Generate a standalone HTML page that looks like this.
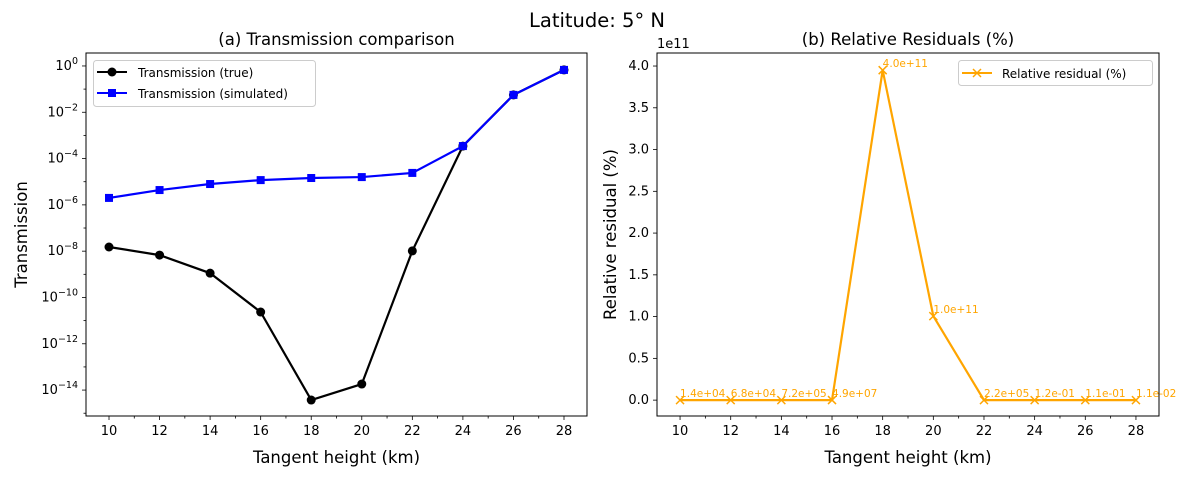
<!DOCTYPE html>
<html><head><meta charset="utf-8"><style>
body{margin:0;background:#fff;}
svg{font-family:"DejaVu Sans","Liberation Sans",sans-serif;}
</style></head><body>
<svg id="chart" width="1189" height="479" viewBox="0 0 1189 479" xmlns="http://www.w3.org/2000/svg">
<rect width="1189" height="479" fill="#fff"/>
<text x="597" y="27" font-size="19.5" text-anchor="middle">Latitude: 5° N</text>
<g id="left"></g><g id="right"></g>
</svg>
<script>
const heights=[10,12,14,16,18,20,22,24,26,28];
const trueLog=[-7.82,-8.17,-8.95,-10.63,-14.43,-13.74,-7.99,-3.46,-1.25,-0.17];
const simLog=[-5.70,-5.36,-5.10,-4.93,-4.84,-4.80,-4.62,-3.46,-1.25,-0.17];
const residual=[1.4e4,6.8e4,7.2e5,4.9e7,3.95e11,1.006e11,2.2e5,1.2e-1,1.1e-1,1.1e-2];
const residLabels=["1.4e+04","6.8e+04","7.2e+05","4.9e+07","4.0e+11","1.0e+11","2.2e+05","1.2e-01","1.1e-01","1.1e-02"];
const xTicks=[10,12,14,16,18,20,22,24,26,28];
const leftYTicks=[0,-2,-4,-6,-8,-10,-12,-14];
const rightYTicks=[0,0.5,1,1.5,2,2.5,3,3.5,4];
const NS="http://www.w3.org/2000/svg";
function el(p,t,a,txt){const e=document.createElementNS(NS,t);for(const k in a)e.setAttribute(k,a[k]);if(txt!==undefined)e.textContent=txt;p.appendChild(e);return e;}
function axes(g,L,R,T,B,xmin,xmax,ymin,ymax){
  const sx=v=>L+(v-xmin)/(xmax-xmin)*(R-L);
  const sy=v=>B-(v-ymin)/(ymax-ymin)*(B-T);
  return [sx,sy];
}
function drawX(g,sx,B,label,cx){
  for(let v=10;v<=28;v++){const x=sx(v);const t=el(g,'line',{x1:x,x2:x,y1:B,y2:B+(v%2===0?4:2.5),stroke:'#000','stroke-width':0.8});
    }
  xTicks.forEach(v=>{const t=el(g,'text',{x:sx(v),y:B+19,'font-size':13,'text-anchor':'middle'},String(v));
    });
  const t=el(g,'text',{x:cx,y:B+47,'font-size':16.5,'text-anchor':'middle'},label);
  
}
// LEFT
{
const g=document.getElementById('left');
const L=86,R=587,T=53,B=416;
const [sx,sy]=axes(g,L,R,T,B,9.09,28.91,-15.12,0.56);
for(let e=-15;e<=0;e++){const y=sy(e);el(g,'line',{x1:L,x2:L-(e%2===0?4:2.5),y1:y,y2:y,stroke:'#000','stroke-width':0.8});}
leftYTicks.forEach(e=>{const t=el(g,'text',{x:L-8,y:sy(e)+4,'font-size':13,'text-anchor':'end'});
  
  t.appendChild(document.createTextNode('10'));el(t,'tspan',{dy:-6,'font-size':9.5},String(e).replace('-','−'));});
drawX(g,sx,B,'Tangent height (km)',(L+R)/2);
const yt=el(g,'text',{x:27,y:(T+B)/2,'font-size':16.5,'text-anchor':'middle',transform:`rotate(-90 27 ${(T+B)/2})`},'Transmission');

const ti=el(g,'text',{x:(L+R)/2,y:45,'font-size':16.5,'text-anchor':'middle'},'(a) Transmission comparison');

const p1=el(g,'polyline',{points:heights.map((h,i)=>sx(h)+','+sy(trueLog[i])).join(' '),fill:'none',stroke:'#000','stroke-width':2.2});

heights.forEach((h,i)=>{const c=el(g,'circle',{cx:sx(h),cy:sy(trueLog[i]),r:4.5,fill:'#000'});
  });
const p2=el(g,'polyline',{points:heights.map((h,i)=>sx(h)+','+sy(simLog[i])).join(' '),fill:'none',stroke:'#0000ff','stroke-width':2.2});

heights.forEach((h,i)=>{const c=el(g,'rect',{x:sx(h)-4,y:sy(simLog[i])-4,width:8,height:8,fill:'#0000ff'});
  });
el(g,'rect',{x:L,y:T,width:R-L,height:B-T,fill:'none',stroke:'#000','stroke-width':1});
const lg=el(g,'g',{});
el(lg,'rect',{x:93.5,y:60.5,width:222,height:46,rx:3,fill:'#fff',stroke:'#ccc'});
el(lg,'line',{x1:97,x2:127,y1:72,y2:72,stroke:'#000','stroke-width':2});el(lg,'circle',{cx:112,cy:72,r:4.5,fill:'#000'});
el(lg,'text',{x:138,y:77,'font-size':12},'Transmission (true)');
el(lg,'line',{x1:97,x2:127,y1:93,y2:93,stroke:'#0000ff','stroke-width':2});el(lg,'rect',{x:108,y:89,width:8,height:8,fill:'#0000ff'});
el(lg,'text',{x:138,y:98,'font-size':12},'Transmission (simulated)');
}
// RIGHT
{
const g=document.getElementById('right');
const L=657,R=1159,T=53,B=416;
const [sx,sy]=axes(g,L,R,T,B,9.09,28.91,-0.19,4.156);
rightYTicks.forEach(v=>{const y=sy(v);el(g,'line',{x1:L,x2:L-4,y1:y,y2:y,stroke:'#000','stroke-width':0.8});
  const t=el(g,'text',{x:L-8,y:y+4,'font-size':13,'text-anchor':'end'},v.toFixed(1));
  });
el(g,'text',{x:L,y:48,'font-size':13},'1e11');
drawX(g,sx,B,'Tangent height (km)',(L+R)/2);
const yt=el(g,'text',{x:616,y:(T+B)/2,'font-size':16.5,'text-anchor':'middle',transform:`rotate(-90 616 ${(T+B)/2})`},'Relative residual (%)');

const ti=el(g,'text',{x:(L+R)/2,y:45,'font-size':16.5,'text-anchor':'middle'},'(b) Relative Residuals (%)');

const p=el(g,'polyline',{points:heights.map((h,i)=>sx(h)+','+sy(residual[i]/1e11)).join(' '),fill:'none',stroke:'#ffa500','stroke-width':2.2});

heights.forEach((h,i)=>{const x=sx(h),y=sy(residual[i]/1e11);
  const m=el(g,'path',{d:`M${x-4},${y-4}L${x+4},${y+4}M${x-4},${y+4}L${x+4},${y-4}`,stroke:'#ffa500','stroke-width':1.5});
  
  const t=el(g,'text',{x:x,y:y-3,'font-size':10.5,fill:'#ffa500'},residLabels[i]);
  });
el(g,'rect',{x:L,y:T,width:R-L,height:B-T,fill:'none',stroke:'#000','stroke-width':1});
const lg=el(g,'g',{});
el(lg,'rect',{x:958.5,y:60.5,width:194,height:25,rx:3,fill:'#fff',stroke:'#ccc'});
el(lg,'line',{x1:962,x2:992,y1:73,y2:73,stroke:'#ffa500','stroke-width':2});
el(lg,'path',{d:'M973,69L981,77M973,77L981,69',stroke:'#ffa500','stroke-width':1.5});
el(lg,'text',{x:1002,y:78,'font-size':12},'Relative residual (%)');
}
</script>
</body></html>
